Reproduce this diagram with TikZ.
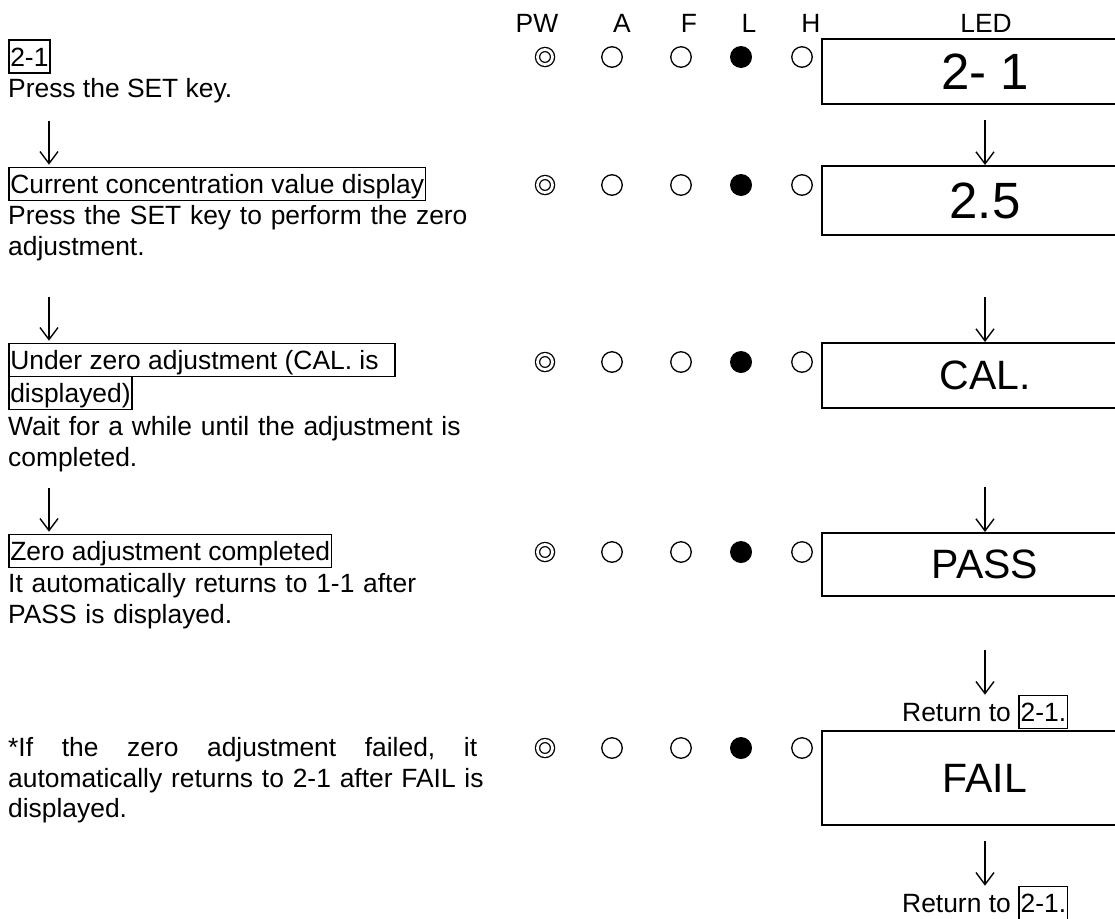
\documentclass[tikz,border=0pt]{standalone}
\usepackage{fontspec}
\setmainfont{Liberation Sans}
\usetikzlibrary{arrows.meta, positioning, calc}

\tikzset{
  body/.style={anchor=base west, inner sep=0pt, font=\fontsize{26.4}{30.5}\selectfont},
  para/.style={body, text width=490pt, align=left},
  tag/.style={body, draw, line width=1.6pt, inner xsep=1.5pt, inner ysep=0pt,
    text height=26pt, text depth=7pt},
  head/.style={anchor=base, inner sep=0pt, font=\fontsize{26.4}{30}\selectfont},
  ledbox/.style={draw, line width=2pt, minimum width=326pt},
  bigdigit/.style={font=\fontsize{51}{55}\selectfont},
  bigword/.style={font=\fontsize{41}{45}\selectfont},
  lamp/.style={circle, inner sep=0pt, minimum size=20.5pt, line width=1.3pt},
  lampoff/.style={lamp, draw},
  lampon/.style={lamp, fill, minimum size=22pt},
  lamppw/.style={lamp, draw, double, double distance=2.8pt, minimum size=15pt},
  flow/.style={-{Straight Barb[length=12pt,width=18pt]}, line width=1.4pt}
}

\begin{document}
\begin{tikzpicture}[x=1pt, y=-1pt]
    \clip (0,0) rectangle (1115,918);

    \foreach \lbl/\x in {PW/537,A/622,F/689,L/749,H/811,LED/986}
      \node[head] (col\lbl) at (\x,32) {\lbl};

    \foreach \r/\y in {1/57,2/185,3/362,4/552,5/748} {
      \node[lamppw] (pw\r) at (545,\y) {};
      \node[lampoff] (a\r) at (612,\y) {};
      \node[lampoff] (f\r) at (681,\y) {};
      \node[lampon] (l\r) at (741,\y) {};
      \node[lampoff] (h\r) at (802,\y) {};
    }

    \node[tag] (s1) at (8,66) {2-1};
    \node[body] (s1txt) at (8,97) {Press the SET key.};
    \node[tag] (s2) at (8,193.5) {Current concentration value display};
    \node[para] (s2txt) at (8,224.5) {Press the SET key to perform the zero\\adjustment.};
    \node[tag] (s3a) at (8,369.5) {Under zero adjustment (CAL. is\hspace*{15pt}};
    \node[tag] (s3b) at (8,402.5) {displayed)};
    \node[para] (s3txt) at (8,435.5) {Wait for a while until the adjustment is\\completed.};
    \node[tag] (s4) at (8,560.5) {Zero adjustment completed};
    \node[para] (s4txt) at (8,592.5) {It automatically returns to 1-1 after\\PASS is displayed.};
    \node[para] (s5txt) at (8,756.5) {\hbox to 469pt{*If\hfill the\hfill zero\hfill adjustment\hfill failed,\hfill it}\\automatically returns to 2-1 after FAIL is\\displayed.};

    \draw[flow] ([xshift=41pt,yshift=46pt]s2.north west) -- ([xshift=41pt,yshift=2pt]s2.north west);
    \draw[flow] ([xshift=41pt,yshift=46pt]s3a.north west) -- ([xshift=41pt,yshift=2pt]s3a.north west);
    \draw[flow] ([xshift=41pt,yshift=46pt]s4.north west) -- ([xshift=41pt,yshift=2pt]s4.north west);

    \node[ledbox, bigdigit, minimum height=65pt] (led1) at (985,71.5) {2- 1};
    \node[ledbox, bigdigit, minimum height=69pt] (led2) at (985,200.5) {2.5};
    \node[ledbox, bigword, minimum height=65pt] (led3) at (985,375.5) {CAL.};
    \node[ledbox, bigword, minimum height=63pt] (led4) at (985,564.5) {PASS};
    \node[ledbox, bigword, minimum height=94pt] (led5) at (985,778) {FAIL};

    \node[body] (ret1) at (902,721.5) {Return to};
    \node[tag, base right=7.3pt of ret1] (ret1tag) {2-1.};
    \node[body] (ret2) at (902,912.5) {Return to};
    \node[tag, base right=7.3pt of ret2] (ret2tag) {2-1.};

    \draw[flow] ([yshift=45pt]led2.north) -- (led2.north);
    \draw[flow] ([yshift=45pt]led3.north) -- (led3.north);
    \draw[flow] ([yshift=45pt]led4.north) -- (led4.north);
    \coordinate (r1top) at (led5.north |- ret1tag.north);
    \coordinate (r2top) at (led5.south |- ret2tag.north);
    \draw[flow] ([yshift=45pt]r1top) -- (r1top);
    \draw[flow] ([yshift=-15pt]led5.south) -- (r2top);
\end{tikzpicture}
\end{document}
